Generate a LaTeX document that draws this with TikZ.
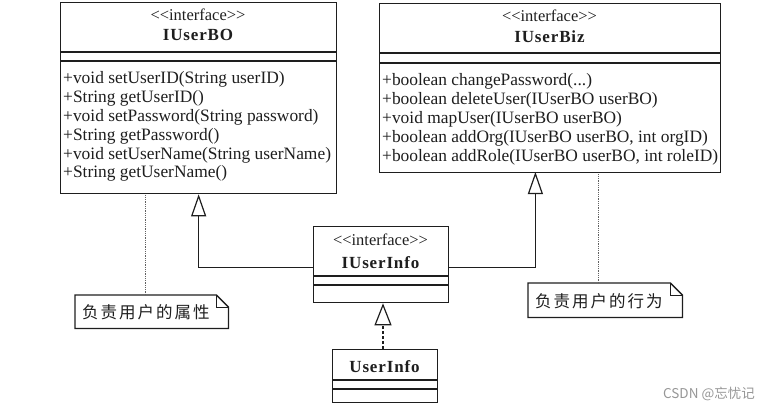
\documentclass[tikz,border=0pt]{standalone}
\usepackage{fontspec}
\setmainfont{Liberation Serif}
\newfontfamily\namefont[LetterSpace=5]{Liberation Serif}
\newfontfamily\cjknote[LetterSpace=12]{Noto Sans CJK SC}
\newfontfamily\cjk{Noto Sans CJK SC}
\usetikzlibrary{arrows.meta}
\definecolor{ink}{RGB}{30,30,30}
\definecolor{wmark}{RGB}{150,150,150}
\newcommand{\stereotxt}{<\kern0pt<interface>\kern0pt>}
\begin{document}
\begin{tikzpicture}[x=1pt,y=-1pt,
  box/.style={draw=ink, line width=1.3pt, inner sep=0, anchor=north west},
  sep/.style={draw=ink, line width=1.3pt},
  stereo/.style={font=\fontsize{16.5}{16.5}\selectfont, anchor=base, inner sep=0, text=ink},
  cname/.style={font=\namefont\bfseries\fontsize{17}{17}\selectfont, anchor=base, inner sep=0, text=ink},
  meth/.style={font=\fontsize{17.4}{17.4}\selectfont, anchor=base west, inner sep=0, text=ink},
  gen/.style={draw=ink, line width=1.2pt, -{Triangle[open, length=22pt, width=15pt, line width=1.2pt]}},
  real/.style={draw=ink, line width=1.2pt, densely dashed, -{Triangle[open, length=22pt, width=17pt, line width=1.2pt]}},
  link/.style={draw=ink!70, line width=0.8pt, densely dotted},
  notebox/.style={inner sep=0, anchor=north west},
  notetext/.style={font=\cjknote\fontsize{16.5}{16.5}\selectfont, anchor=west, inner sep=0, text=ink},
]
\useasboundingbox (0,0) rectangle (774,409);

% IUserBO
\node[box, minimum width=276pt, minimum height=191pt] (bo) at (60,2) {};
\draw[sep] (60,52) -- (336,52);
\draw[sep] (60,61) -- (336,61);
\node[stereo] (bos) at (198,21) {\stereotxt};
\node[cname] (bon) at (198,41) {IUserBO};
\node[meth] (bom0) at (63,84.0) {+void setUserID(String userID)};
\node[meth] (bom1) at (63,102.8) {+String getUserID()};
\node[meth] (bom2) at (63,121.6) {+void setPassword(String password)};
\node[meth] (bom3) at (63,140.4) {+String getPassword()};
\node[meth] (bom4) at (63,159.2) {+void setUserName(String userName)};
\node[meth] (bom5) at (63,178.0) {+String getUserName()};

% IUserBiz
\node[box, minimum width=341pt, minimum height=169pt] (biz) at (379,3) {};
\draw[sep] (379,53) -- (720,53);
\draw[sep] (379,63) -- (720,63);
\node[stereo] (bizs) at (549.5,22) {\stereotxt};
\node[cname] (bizn) at (549.5,43) {IUserBiz};
\node[meth] (bizm0) at (382,86.0) {+boolean changePassword(...)};
\node[meth] (bizm1) at (382,104.9) {+boolean deleteUser(IUserBO userBO)};
\node[meth] (bizm2) at (382,123.8) {+void mapUser(IUserBO userBO)};
\node[meth] (bizm3) at (382,142.7) {+boolean addOrg(IUserBO userBO, int orgID)};
\node[meth] (bizm4) at (382,161.6) {+boolean addRole(IUserBO userBO, int roleID)};

% IUserInfo
\node[box, minimum width=135pt, minimum height=76pt] (info) at (313,226) {};
\draw[sep] (313,276) -- (448,276);
\draw[sep] (313,285) -- (448,285);
\node[stereo] (infos) at (380.5,245) {\stereotxt};
\node[cname] (infon) at (380.5,268) {IUserInfo};

% UserInfo
\node[box, minimum width=105pt, minimum height=53pt] (ui) at (332,349) {};
\draw[sep] (332,380) -- (437,380);
\draw[sep] (332,389) -- (437,389);
\node[cname] (uin) at (384.5,372) {UserInfo};

% relations
\coordinate (bzt) at (535.4,172);
\draw[gen] ([yshift=-3pt]info.west) -| (bo.south);
\draw[gen] ([yshift=-3pt]info.east) -| (bzt);
\coordinate (uit) at (383,349);
\draw[real] (uit) -- (uit |- info.south);

% notes
\node[notebox, minimum width=153pt, minimum height=33pt] (n1) at (75,295) {};
\draw[sep] (n1.north west) -- ([xshift=-12pt]n1.north east) -- ([yshift=-12pt]n1.north east) -- (n1.south east) -- (n1.south west) -- cycle;
\draw[draw=ink, line width=0.9pt] ([xshift=-12pt]n1.north east) |- ([yshift=-12pt]n1.north east);
\node[notetext] (n1t) at ([xshift=7pt,yshift=-1pt]n1.west) {负责用户的属性};
\coordinate (n1a) at (145,295);
\draw[link] (n1a) -- (n1a |- bo.south);

\node[notebox, minimum width=154pt, minimum height=34pt] (n2) at (528,283) {};
\draw[sep] (n2.north west) -- ([xshift=-12pt]n2.north east) -- ([yshift=-12pt]n2.north east) -- (n2.south east) -- (n2.south west) -- cycle;
\draw[draw=ink, line width=0.9pt] ([xshift=-12pt]n2.north east) |- ([yshift=-12pt]n2.north east);
\node[notetext] (n2t) at ([xshift=7pt,yshift=-1pt]n2.west) {负责用户的行为};
\coordinate (n2a) at (598,283);
\draw[link] (n2a) -- (n2a |- biz.south);

% watermark
\node[font=\cjk\fontsize{13.5}{13.5}\selectfont, text=wmark, inner sep=0] (wm) at (709,394) {CSDN @忘忧记};
\end{tikzpicture}
\end{document}
